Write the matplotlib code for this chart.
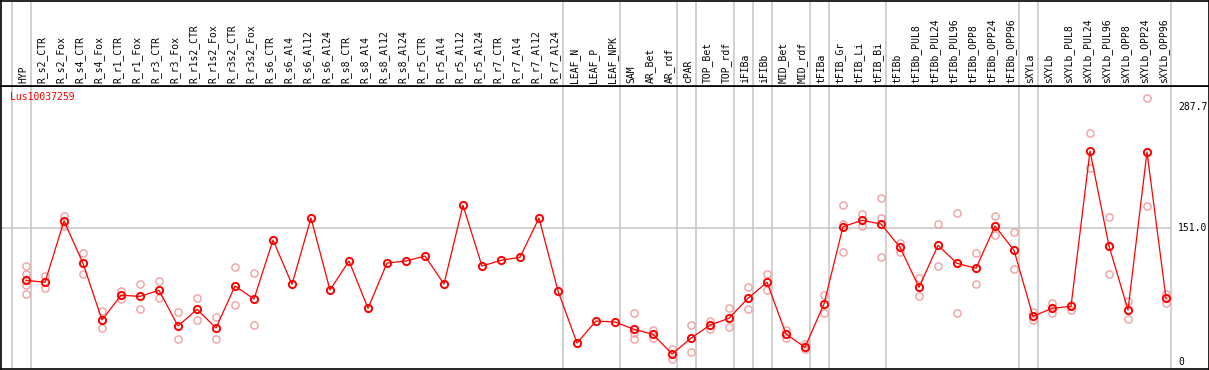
import matplotlib

matplotlib.use("Agg")
import matplotlib.pyplot as plt  # noqa: E402

W, H = 1209, 370

categories = [
    "HYP", "R_s2_CTR", "R_s2_Fox", "R_s4_CTR", "R_s4_Fox", "R_r1_CTR", "R_r1_Fox",
    "R_r3_CTR", "R_r3_Fox", "R_r1s2_CTR", "R_r1s2_Fox", "R_r3s2_CTR", "R_r3s2_Fox",
    "R_s6_CTR", "R_s6_Al4", "R_s6_Al12", "R_s6_Al24", "R_s8_CTR", "R_s8_Al4",
    "R_s8_Al12", "R_s8_Al24", "R_r5_CTR", "R_r5_Al4", "R_r5_Al12", "R_r5_Al24",
    "R_r7_CTR", "R_r7_Al4", "R_r7_Al12", "R_r7_Al24", "LEAF_N", "LEAF_P", "LEAF_NPK",
    "SAM", "AR_Bet", "AR_rdf", "cPAR", "TOP_Bet", "TOP_rdf", "iFIBa", "iFIBb",
    "MID_Bet", "MID_rdf", "tFIBa", "tFIB_Gr", "tFIB_Li", "tFIB_Bi", "tFIBb",
    "tFIBb_PUL8", "tFIBb_PUL24", "tFIBb_PUL96", "tFIBb_OPP8", "tFIBb_OPP24",
    "tFIBb_OPP96", "sXYLa", "sXYLb", "sXYLb_PUL8", "sXYLb_PUL24", "sXYLb_PUL96",
    "sXYLb_OPP8", "sXYLb_OPP24", "sXYLb_OPP96",
]

means = [
    92.1, 89.8, 159.1, 111.3, 47.2, 75.1, 73.9, 80.7, 40.4, 59.2, 38.1, 85.6, 70.9,
    137.6, 87.5, 162.5, 81.1, 113.9, 60.4, 111.6, 113.9, 119.5, 87.9, 176.9, 108.2,
    114.7, 118.1, 162.5, 80.0, 21.1, 46.0, 44.9, 36.6, 31.0, 8.7, 26.5, 41.5, 49.1,
    71.7, 89.8, 31.3, 16.3, 65.3, 152.7, 159.9, 155.7, 129.4, 84.1, 131.6, 111.3,
    105.6, 153.5, 126.0, 51.3, 60.4, 62.6, 238.3, 130.9, 58.5, 237.2, 71.7,
]

replicates = [
    [108.2, 99.2, 86.7, 76.2], [97.3, 83.7], [164.8, 153.5], [122.6, 98.8],
    [57.3, 37.7], [80.3, 70.6], [87.9, 59.2], [91.3, 71.7], [55.8, 25.3],
    [71.7, 47.2], [50.2, 25.3], [107.1, 63.8], [100.3, 41.2],
    [], [], [], [], [], [], [], [], [], [], [], [], [], [], [], [],
    [], [], [],
    [54.7, 32.1, 25.3], [35.5, 26.5], [14.0, 2.7], [41.2, 10.6], [45.7, 36.6],
    [60.4, 38.9], [84.5, 59.2], [99.2, 81.1], [35.9, 26.5], [20.0, 14.0],
    [75.4, 54.7], [176.9, 155.7, 123.7], [167.0, 153.5], [184.8, 162.2, 118.1],
    [134.6, 124.1], [94.3, 74.0], [155.7, 107.9], [167.8, 54.7], [122.6, 87.9],
    [164.8, 142.9], [146.3, 104.5], [55.8, 47.2], [66.7, 55.4], [63.7, 58.8],
    [258.7, 218.7], [163.3, 98.8], [68.6, 48.6], [297.9, 176.1], [76.2, 66.0],
]

# group separators: after these column indices
separators = [-1, 0, 28, 31, 34, 35, 37, 38, 39, 41, 42, 45, 52, 53, 60]
y_labels = [287.7, 151.0, 0]

RED = "#ff0000"
PINK = "#f0a0a0"
GRID = "#c4c4c4"
FONT = "DejaVu Sans Mono"

# pixel geometry of the reference
X0, DX = 26.0, 19.0          # x pixel of first column, column step
Y0, KY = 361.7, 0.8842       # y pixel of value 0, pixels per unit
HEAD = 85.5                  # header / plot boundary


def px_to_idx(px):
    return (px - X0) / DX


def px_to_val(py):
    return (Y0 - py) / KY


fig = plt.figure(figsize=(W / 100, H / 100), dpi=100)
fig.patch.set_facecolor("white")

ax = fig.add_axes([0.5 / W, 1 / H, (W - 1) / W, (HEAD - 1) / H * 0 + (369 - HEAD) / H])
hx = fig.add_axes([0.5 / W, (H - HEAD) / H, (W - 1) / W, (HEAD - 0.5) / H])

xl = (px_to_idx(0.5), px_to_idx(W - 0.5))
for a in (ax, hx):
    a.set_xlim(*xl)
    a.set_xticks([])
    a.set_yticks([])
    for s in a.spines.values():
        s.set_color("black")
        s.set_linewidth(1.2)
    for i in separators:
        a.axvline(i + 0.25, color=GRID, lw=1.1, zorder=0)

ax.set_ylim(px_to_val(369), px_to_val(HEAD))
hx.set_ylim(HEAD, 0.5)

ax.hlines(151.0, xl[0], 60.25, color=GRID, lw=1.1, zorder=0)

xs = list(range(len(categories)))
for i, reps in enumerate(replicates):
    if reps:
        ax.plot([i] * len(reps), reps, "o", ms=5.2, mfc="none", mec=PINK, mew=1.0, zorder=2)
ax.plot(xs, means, "-", color=RED, lw=0.9, zorder=3)
ax.plot(xs, means, "o", ms=5.2, mfc="none", mec=RED, mew=1.4, zorder=4)

for i, name in enumerate(categories):
    hx.text(i - 0.15, 83.0, name, rotation=90, ha="center", va="bottom",
            fontsize=7, family=FONT, color="black")

ax.text(px_to_idx(10), px_to_val(97), "Lus10037259", ha="left", va="center",
        fontsize=7, family=FONT, color=RED)

for v in y_labels:
    ax.text(px_to_idx(1178), v, f"{v:.1f}" if v else "0", ha="left", va="center",
            fontsize=7, family=FONT, color="black")

fig.savefig("out.png", dpi=100, facecolor="white")
